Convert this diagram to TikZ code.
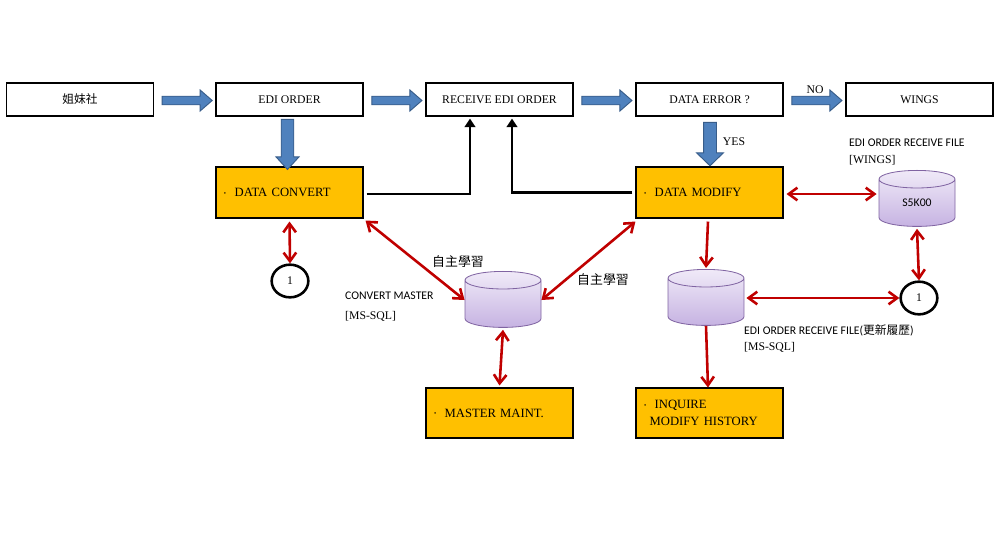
\documentclass[tikz,border=0pt]{standalone}
\usepackage{fontspec}
\setmainfont{Liberation Serif}
\newfontfamily\calfont{Carlito}
\newfontfamily\cjk{Noto Sans CJK TC}
\usetikzlibrary{arrows.meta,shapes.geometric,shapes.arrows,calc}
\definecolor{boxorange}{HTML}{FFC000}
\definecolor{arrowblue}{HTML}{4F81BD}
\definecolor{arrowblueedge}{HTML}{385D8A}
\definecolor{linkred}{HTML}{C00000}
\definecolor{cyltop}{HTML}{F0EAF8}
\definecolor{cylbot}{HTML}{C6B3E2}
\definecolor{cyledge}{HTML}{8064A2}
\newcommand{\mybul}{\raisebox{0.25ex}{\scalebox{0.5}{\textbullet}}}
\tikzset{
  whitebox/.style={draw=black,line width=0.9pt,fill=white,minimum width=4.41cm,minimum height=0.99cm,inner sep=0pt,font=\fontsize{10}{12}\selectfont},
  orangebox/.style={draw=black,line width=0.9pt,fill=boxorange,minimum height=1.53cm,text width=3.93cm,inner xsep=0.24cm,inner ysep=0pt,align=left,font=\fontsize{10.8}{14.5}\selectfont},
  blockarrow/.style={single arrow,draw=arrowblueedge,fill=arrowblue,line width=0.8pt,single arrow head indent=0pt},
  harrow/.style={blockarrow,inner sep=0.114cm,minimum height=1.5cm,single arrow head extend=0.186cm,single arrow tip angle=82},
  db/.style={cylinder,shape border rotate=90,aspect=0.6,draw=cyledge,line width=0.7pt,top color=cyltop,bottom color=cylbot,minimum width=2.28cm,minimum height=1.68cm,inner sep=0pt,font=\calfont\fontsize{10}{12}\selectfont},
  conn/.style={ellipse,draw=black,line width=2.2pt,fill=white,minimum width=1.1cm,minimum height=0.98cm,inner sep=0pt,font=\fontsize{10}{12}\selectfont},
  redlink/.style={draw=linkred,line width=2.2pt,{Straight Barb[length=0.26cm,width=0.38cm]}-{Straight Barb[length=0.26cm,width=0.38cm]}},
  redone/.style={draw=linkred,line width=2.2pt,-{Straight Barb[length=0.26cm,width=0.38cm]}},
  blacklink/.style={draw=black,line width=2.2pt,-{Triangle[length=0.26cm,width=0.32cm]}},
  lbl/.style={inner sep=0pt,font=\fontsize{10}{12}\selectfont},
  callbl/.style={inner sep=0pt,anchor=west,font=\calfont\fontsize{10}{12}\selectfont},
  cjklbl/.style={inner sep=0pt,font=\cjk\fontsize{11}{13}\selectfont}
}
\begin{document}
\begin{tikzpicture}[x=0.03cm,y=-0.03cm]
\useasboundingbox[fill=white] (0,0) rectangle (1000,550);

% top row
\node[whitebox] (sis) at (80,99.5) {\cjk 姐妹社};
\node[whitebox] (edi) at (289.5,99.5) {EDI ORDER};
\node[whitebox] (recv) at (499.5,99.5) {RECEIVE EDI ORDER};
\node[whitebox] (err) at (709.5,99.5) {DATA ERROR ?};
\node[whitebox] (wings) at (919.5,99.5) {WINGS};

% orange boxes
\node[orangebox] (conv) at (289.5,192.5) {\mybul\ \ DATA CONVERT};
\node[orangebox] (mod) at (709.5,192.5) {\mybul\ \ DATA MODIFY};
\node[orangebox,minimum height=1.5cm] (maint) at (499.5,413) {\mybul\ \ MASTER MAINT.};
\node[orangebox,minimum height=1.5cm] (inq) at (709.5,413) {\mybul\ \ INQUIRE\\\hspace*{0.17cm}MODIFY HISTORY};

% block arrows
\node[harrow] (a1) at ($(sis.east)!0.5!(edi.west)+(0,1)$) {};
\node[harrow] (a2) at ($(edi.east)!0.5!(recv.west)+(0,1)$) {};
\node[harrow] (a3) at ($(recv.east)!0.5!(err.west)+(0,1)$) {};
\node[harrow] (a4) at ($(err.east)!0.5!(wings.west)+(0,1)$) {};
\node[blockarrow,shape border rotate=270,inner sep=0.174cm,minimum height=1.5cm,single arrow head extend=0.156cm,single arrow tip angle=85] (a5) at (287.5,141) {};
\node[blockarrow,shape border rotate=270,inner sep=0.18cm,minimum height=1.3cm,single arrow head extend=0.21cm,single arrow tip angle=92] (a6) at (710,141) {};
\node[lbl] (no) at (815,90) {NO};
\node[lbl] (yes) at (734,142) {YES};

% databases
\node[db] (db1) at (503,304) {\phantom{S5K00}};
\node[db] (db2) at (706,302) {\phantom{S5K00}};
\node[db] (db3) at (917,203) {S5K00};

% connectors (circles)
\node[conn] (c1) at (290,281) {1};
\node[conn] (c2) at (919,298) {1};

% labels
\node[cjklbl] (l1) at (458,262) {自主學習};
\node[cjklbl] (l2) at (603,280) {自主學習};
\node[callbl] (cm1) at (345,296) {CONVERT MASTER};
\node[lbl,anchor=west] (cm2) at (345,316) {[MS-SQL]};
\node[callbl] (w1) at (849,143) {EDI ORDER RECEIVE FILE};
\node[lbl,anchor=west] (w2) at (849,160) {[WINGS]};
\node[callbl] (h1) at (744,330) {EDI ORDER RECEIVE FILE({\cjk 更新履歷})};
\node[lbl,anchor=west] (h2) at (744,347) {[MS-SQL]};

% black connectors
\draw[blacklink] ($(conv.east)+(3,1.5)$) -| ($(recv.south)+(-29.5,2)$);
\draw[blacklink] ($(mod.west)+(-3,0)$) -| ($(recv.south)+(12.5,2)$);

% red connectors
\draw[redlink] ($(conv.south)+(0,3)$) -- (c1.north);
\draw[redlink] ($(conv.south east)+(2,2)$) -- ($(db1.180)+(0,-4)$);
\draw[redlink] ($(mod.south west)+(0,3)$) -- ($(db1.0)+(0,-4)$);
\draw[redlink] ($(db1.270)+(0,2)$) -- ($(maint.north)+(0,-2)$);
\draw[redone] ($(mod.south)+(-1.5,3)$) -- ($(db2.90)+(0,-1)$);
\draw[redone] ($(db2.270)+(0,0)$) -- ($(inq.north)+(-1.5,0)$);
\draw[redlink] ($(db2.0)+(2,-4)$) -- (c2.west);
\draw[redlink] ($(mod.east)+(3,1.5)$) -- ($(db3.180)+(-2,-9)$);
\draw[redlink] ($(db3.270)+(0,2)$) -- (c2.north);
\end{tikzpicture}
\end{document}
